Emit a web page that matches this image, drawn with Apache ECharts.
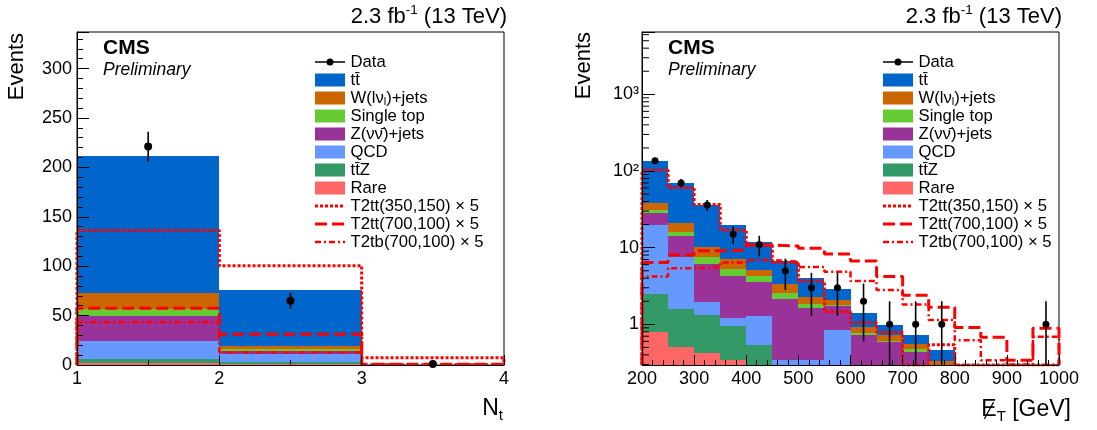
<!DOCTYPE html>
<html>
<head>
<meta charset="utf-8">
<script src="https://cdn.jsdelivr.net/npm/echarts@6/dist/echarts.min.js"></script>
<style>
  html, body { margin: 0; padding: 0; background: #fff; }
  #main { width: 1097px; height: 430px; }
</style>
</head>
<body>
<div id="main"></div>
<script>
// ---- left panel: number of top tags, bins 1-2, 2-3, 3-4
var ntEdges = [1, 2, 3, 4];
var ntRare = [1.7, 1.2, 0.05];
var ntTtZ = [4.1, 1.5, 0.1];
var ntQCD = [18.5, 8.5, 0.4];
var ntZnn = [25.3, 3.0, 0.1];
var ntSingleTop = [6.8, 1.7, 0.05];
var ntWjets = [16.9, 2.9, 0.1];
var ntTtbar = [138.7, 57.2, 0.5];
var ntData = [221, 65, 1];
var ntDataErr = [15, 8, 1];
var ntT2tt350 = [136, 100.5, 7.4];
var ntT2tt700 = [57.4, 31, 0.8];
var ntT2tb700 = [43.2, 12.8, 0.6];

// ---- right panel: MET, 50 GeV bins from 200 to 1000
var metEdges = [200, 250, 300, 350, 400, 450, 500, 550, 600, 650, 700, 750, 800, 850, 900, 950, 1000];
var metRare = [0.8, 0.5, 0.42, 0.34, 0.2, 0.1, 0.1, 0.1, 0.05, 0.05, 0.03, 0.02, 0, 0, 0, 0];
var metTtZ = [1.7, 1.1, 0.9, 0.61, 0.34, 0.1, 0.1, 0.1, 0.05, 0.05, 0.03, 0.02, 0, 0, 0, 0];
var metQCD = [17.2, 6.0, 0.65, 0.25, 0.74, 0.14, 0.14, 0.64, 0.1, 0.05, 0.04, 0.02, 0, 0, 0, 0];
var metZnn = [8.3, 6.6, 4.08, 3.06, 2.32, 1.8, 1.28, 0.89, 0.52, 0.43, 0.33, 0.14, 0, 0, 0, 0];
var metSingleTop = [3.0, 1.9, 1.45, 0.94, 0.66, 0.4, 0.22, 0.06, 0.04, 0.02, 0.04, 0.02, 0, 0, 0, 0];
var metWjets = [7.5, 4.6, 2.6, 1.9, 0.84, 0.81, 0.41, 0.28, 0.17, 0.12, 0.08, 0.11, 0, 0, 0, 0];
var metTtbar = [96.5, 49.3, 25.9, 12.6, 6.6, 3.35, 1.75, 0.79, 0.46, 0.26, 0.17, 0.13, 0, 0, 0, 0];
var metData = [136, 70, 36, 15, 11, 5, 3, 3, 2, 1, 1, 1, 0, 0, 0, 1];
var metDataErr = [11.7, 8.4, 6, 3.9, 3.3, 2.2, 1.7, 1.7, 1.4, 1, 1, 1, 0, 0, 0, 1];
var metT2tt350 = [103, 61, 36.7, 17, 10.8, 6.4, 3.67, 1.46, 1.05, 0.79, 0, 0.54, 0, 0, 0, 0];
var metT2tt700 = [6.4, 8.0, 9.1, 9.3, 10.8, 10.5, 9.8, 8.3, 6.7, 4.2, 2.4, 1.67, 0.91, 0.68, 0.34, 0.89];
var metT2tb700 = [4.2, 5.4, 5.6, 6.4, 6.9, 6.55, 5.6, 4.85, 3.67, 2.8, 1.82, 1.14, 0.62, 0.34, 0.3, 0.69];

// axis ranges
var ntYMax = 337;
var metYMin = 0.295, metYMax = 6500;

var FONT = '"Liberation Sans", Arial, Helvetica, sans-serif';

// stack order, bottom to top
var stackColors = ['#ff6666', '#339966', '#6699ff', '#993399', '#66cc33', '#cc6600', '#0066cc'];
var stackNames = ['Rare', 'ttZ', 'QCD', 'Znn', 'SingleTop', 'Wjets', 'ttbar'];
var ntStack = [ntRare, ntTtZ, ntQCD, ntZnn, ntSingleTop, ntWjets, ntTtbar];
var metStack = [metRare, metTtZ, metQCD, metZnn, metSingleTop, metWjets, metTtbar];

var sigStyles = [
  { name: 'T2tt(350,150) × 5', width: 3, dash: [3, 2] },
  { name: 'T2tt(700,100) × 5', width: 3, dash: [12, 5] },
  { name: 'T2tb(700,100) × 5', width: 2.5, dash: [6, 3, 2, 3] }
];

// minor ticks of the log axis (2..9 per decade)
var logMinor = [];
for (var k = -1; k <= 3; k++) {
  for (var m = 2; m <= 9; m++) {
    var v = m * Math.pow(10, k);
    if (v > metYMin && v < metYMax) logMinor.push([200, v]);
  }
}

function stackSeries(gi, edges, comps, floor) {
  var out = [];
  comps.forEach(function (vals, k) {
    var data = [];
    for (var b = 0; b < vals.length; b++) {
      var base = 0;
      for (var j = 0; j < k; j++) base += comps[j][b];
      data.push([edges[b], edges[b + 1], base, base + vals[b]]);
    }
    out.push({
      type: 'custom', name: stackNames[k], xAxisIndex: gi, yAxisIndex: gi, z: 1, silent: true,
      encode: { x: [0, 1], y: 3 },
      data: data,
      renderItem: function (params, api) {
        var lo = Math.max(api.value(2), floor), hi = api.value(3);
        if (!(hi > lo)) return null;
        var a = api.coord([api.value(0), hi]);
        var c = api.coord([api.value(1), lo]);
        var x0 = Math.round(a[0]), x1 = Math.round(c[0]), y0 = Math.round(a[1]), y1 = Math.round(c[1]);
        return { type: 'rect', shape: { x: x0, y: y0, width: x1 - x0, height: y1 - y0 }, style: { fill: stackColors[k] } };
      }
    });
  });
  return out;
}

function sigSeries(gi, edges, vals, floor, st) {
  var pts = [[edges[0], floor]];
  vals.forEach(function (v, i) { pts.push([edges[i], Math.max(v, floor)]); });
  pts.push([edges[edges.length - 1], Math.max(vals[vals.length - 1], floor)]);
  pts.push([edges[edges.length - 1], floor]);
  return {
    type: 'line', name: st.name, xAxisIndex: gi, yAxisIndex: gi, data: pts, step: 'end',
    symbol: 'none', z: 3, silent: true,
    lineStyle: { color: '#ff0000', width: st.width, type: st.dash }
  };
}

function dataSeries(gi, edges, vals, errs, floor, r) {
  var data = vals.map(function (v, i) { return [(edges[i] + edges[i + 1]) / 2, v, errs[i]]; });
  return {
    type: 'custom', name: 'Data', xAxisIndex: gi, yAxisIndex: gi, z: 5, silent: true,
    encode: { x: 0, y: 1 }, data: data,
    renderItem: function (params, api) {
      var x = api.value(0), v = api.value(1), e = api.value(2);
      if (!(v > 0)) return null;
      var p = api.coord([x, v]);
      var hi = api.coord([x, v + e]);
      var lo = api.coord([x, Math.max(v - e, floor)]);
      return {
        type: 'group', children: [
          { type: 'line', shape: { x1: p[0], y1: hi[1], x2: p[0], y2: lo[1] }, style: { stroke: '#000', lineWidth: 1.6 } },
          { type: 'circle', shape: { cx: p[0], cy: p[1], r: r }, style: { fill: '#000' } }
        ]
      };
    }
  };
}

// text helpers: runs of text pieces with sub/superscripts
var measureCtx = document.createElement('canvas').getContext('2d');
function fontStr(p) {
  return (p.style || 'normal') + ' ' + (p.weight || 'normal') + ' ' + p.size + 'px ' + FONT;
}
function textRun(parts, x, y, align) {
  var w = 0;
  parts.forEach(function (p) { measureCtx.font = fontStr(p); p.w = measureCtx.measureText(p.t).width; w += p.w; });
  var cx = align === 'right' ? x - w : x;
  var els = [];
  parts.forEach(function (p) {
    p.x = cx;
    els.push({
      type: 'text', x: cx, y: y + (p.dy || 0), z: 100, silent: true,
      style: {
        text: p.t, fill: '#000', fontSize: p.size, fontFamily: FONT,
        fontWeight: p.weight || 'normal', fontStyle: p.style || 'normal',
        align: 'left', verticalAlign: 'middle'
      }
    });
    cx += p.w;
  });
  return els;
}

var LEG = 16.7;
var legendLabels = [
  [{ t: 'Data', size: LEG }],
  [{ t: 'tt\u0304', size: LEG }],
  [{ t: 'W(l\u03bd', size: LEG }, { t: 'l', size: 11, dy: 4 }, { t: ')+jets', size: LEG }],
  [{ t: 'Single top', size: LEG }],
  [{ t: 'Z(\u03bd\u03bd\u0304)+jets', size: LEG }],
  [{ t: 'QCD', size: LEG }],
  [{ t: 'tt\u0304Z', size: LEG }],
  [{ t: 'Rare', size: LEG }],
  [{ t: sigStyles[0].name, size: LEG }],
  [{ t: sigStyles[1].name, size: LEG }],
  [{ t: sigStyles[2].name, size: LEG }]
];

function legendEls(x0, y0) {
  var els = [];
  var boxColors = stackColors.slice().reverse();
  for (var i = 0; i < legendLabels.length; i++) {
    var y = y0 + 18 * i;
    if (i === 0) {
      els.push({ type: 'line', z: 100, shape: { x1: x0, y1: y, x2: x0 + 30, y2: y }, style: { stroke: '#000', lineWidth: 1.5 } });
      els.push({ type: 'circle', z: 101, shape: { cx: x0 + 15, cy: y, r: 3.5 }, style: { fill: '#000' } });
    } else if (i <= 7) {
      els.push({ type: 'rect', z: 100, shape: { x: x0, y: y - 6.5, width: 30, height: 13 }, style: { fill: boxColors[i - 1] } });
    } else {
      var st = sigStyles[i - 8];
      els.push({ type: 'line', z: 100, shape: { x1: x0, y1: y, x2: x0 + 30, y2: y }, style: { stroke: '#ff0000', lineWidth: st.width, lineDash: st.dash } });
    }
    var parts = legendLabels[i].map(function (p) { return Object.assign({}, p); });
    els = els.concat(textRun(parts, x0 + 35.5, y, 'left'));
  }
  return els;
}

function panelText(gx, gRight) {
  var els = [];
  els = els.concat(textRun([{ t: '2.3 fb', size: 22 }, { t: '-1', size: 13.5, dy: -7 }, { t: ' (13 TeV)', size: 22 }], gRight + 3, 17, 'right'));
  els = els.concat(textRun([{ t: 'CMS', size: 21, weight: 'bold' }], gx + 26, 48, 'left'));
  els = els.concat(textRun([{ t: 'Preliminary', size: 17.5, style: 'italic' }], gx + 26, 70, 'left'));
  return els;
}

function yTitle(x, y) {
  return {
    type: 'text', x: x, y: y, rotation: Math.PI / 2, z: 100, silent: true,
    style: { text: 'Events', fill: '#000', fontSize: 22, fontFamily: FONT, align: 'right', verticalAlign: 'middle' }
  };
}

var graphics = [];
graphics = graphics.concat(legendEls(315, 62), legendEls(883, 62));
graphics = graphics.concat(panelText(77, 504), panelText(642, 1059));
graphics.push(yTitle(17, 33), yTitle(584, 32));
graphics = graphics.concat(textRun([{ t: 'N', size: 23 }, { t: 't', size: 15, dy: 7 }], 503, 409, 'right'));
var metTitle = [{ t: 'E', size: 23 }, { t: 'T', size: 15, dy: 7 }, { t: ' [GeV]', size: 23 }];
graphics = graphics.concat(textRun(metTitle, 1071, 410, 'right'));
graphics.push({
  type: 'line', z: 101, silent: true,
  shape: { x1: metTitle[0].x + 3, y1: 419, x2: metTitle[0].x + metTitle[0].w - 3, y2: 402 },
  style: { stroke: '#000', lineWidth: 1.3 }
});

function axisCommon(extra) {
  var base = {
    z: 10,
    axisLine: { onZero: false, lineStyle: { color: '#000', width: 1 } },
    axisTick: { inside: true, length: 10, lineStyle: { color: '#000' } },
    splitLine: { show: false },
    axisLabel: { color: '#000', fontSize: 18, fontFamily: FONT }
  };
  return Object.assign(base, extra);
}

function plainNum(v) { return String(v); }

var series = [];
series = series.concat(stackSeries(0, ntEdges, ntStack, 0));
series = series.concat(stackSeries(1, metEdges, metStack, metYMin));
[ntT2tt350, ntT2tt700, ntT2tb700].forEach(function (vals, i) { series.push(sigSeries(0, ntEdges, vals, 0, sigStyles[i])); });
[metT2tt350, metT2tt700, metT2tb700].forEach(function (vals, i) { series.push(sigSeries(1, metEdges, vals, metYMin, sigStyles[i])); });
series.push(dataSeries(0, ntEdges, ntData, ntDataErr, 0, 4));
series.push(dataSeries(1, metEdges, metData, metDataErr, metYMin, 3.5));
series.push({
  type: 'custom', xAxisIndex: 1, yAxisIndex: 1, z: 12, silent: true, data: logMinor,
  renderItem: function (params, api) {
    var p = api.coord([api.value(0), api.value(1)]);
    return { type: 'line', shape: { x1: p[0], y1: p[1], x2: p[0] + 7, y2: p[1] }, style: { stroke: '#000', lineWidth: 1 } };
  }
});

var myChart = echarts.init(document.getElementById('main'), null, { renderer: 'canvas' });
myChart.setOption({
  animation: false,
  backgroundColor: '#fff',
  grid: [
    { left: 77, top: 32, width: 427, height: 333, show: true, borderColor: '#000', borderWidth: 1, backgroundColor: 'transparent' },
    { left: 642, top: 32, width: 417, height: 333, show: true, borderColor: '#000', borderWidth: 1, backgroundColor: 'transparent' }
  ],
  xAxis: [
    axisCommon({
      gridIndex: 0, type: 'value', min: 1, max: 4, interval: 1,
      minorTick: { show: true, splitNumber: 2, length: 5, lineStyle: { color: '#000' } },
      axisLabel: { color: '#000', fontSize: 18, fontFamily: FONT, margin: 5, formatter: plainNum }
    }),
    axisCommon({
      gridIndex: 1, type: 'value', min: 200, max: 1000, interval: 100,
      minorTick: { show: true, splitNumber: 5, length: 5, lineStyle: { color: '#000' } },
      axisLabel: { color: '#000', fontSize: 18, fontFamily: FONT, margin: 5, formatter: plainNum }
    })
  ],
  yAxis: [
    axisCommon({
      gridIndex: 0, type: 'value', min: 0, max: ntYMax, interval: 50,
      axisTick: { inside: true, length: 12, lineStyle: { color: '#000' } },
      minorTick: { show: true, splitNumber: 5, length: 6, lineStyle: { color: '#000' } },
      axisLabel: { color: '#000', fontSize: 18, fontFamily: FONT, margin: 5, showMaxLabel: false, formatter: plainNum }
    }),
    axisCommon({
      gridIndex: 1, type: 'log', logBase: 10, min: metYMin, max: metYMax,
      axisTick: { inside: true, length: 13, lineStyle: { color: '#000' } },
      axisLabel: {
        color: '#000', fontSize: 18, fontFamily: FONT, margin: 3,
        formatter: function (val) {
          var e = Math.log(val) / Math.LN10;
          if (Math.abs(e - Math.round(e)) > 1e-6) return '';
          e = Math.round(e);
          return ['1', '10', '10\u00b2', '10\u00b3'][e] || '';
        }
      }
    })
  ],
  series: series,
  graphic: graphics
});
</script>
</body>
</html>
